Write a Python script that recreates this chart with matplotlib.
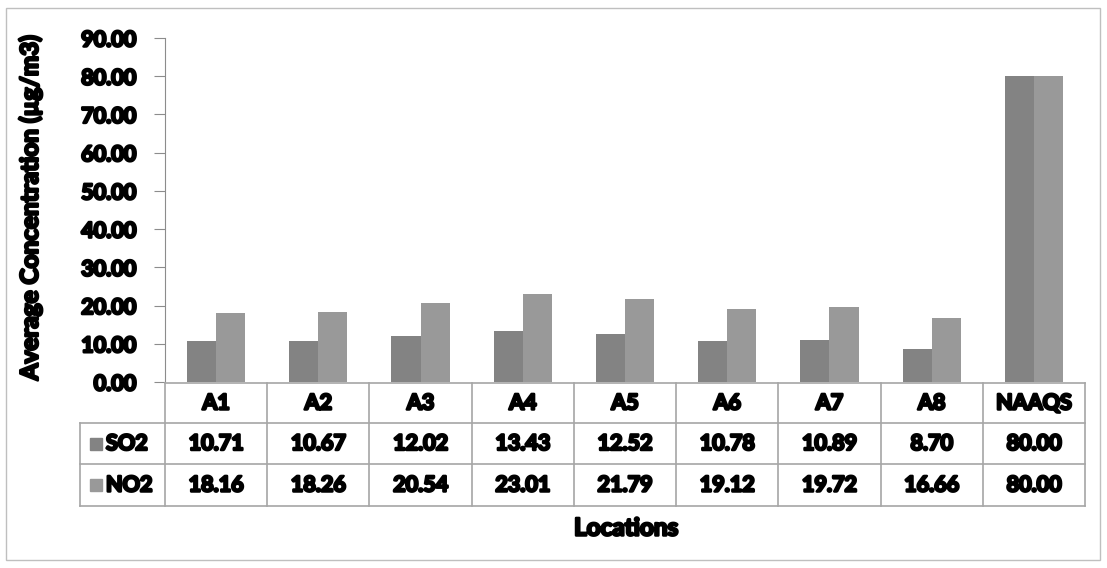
import matplotlib.pyplot as plt
import matplotlib.patheffects as pe
from matplotlib.lines import Line2D
from matplotlib.patches import Rectangle

locations = ["A1", "A2", "A3", "A4", "A5", "A6", "A7", "A8", "NAAQS"]
so2 = [10.71, 10.67, 12.02, 13.43, 12.52, 10.78, 10.89, 8.70, 80.00]
no2 = [18.16, 18.26, 20.54, 23.01, 21.79, 19.12, 19.72, 16.66, 80.00]
series_names = ["SO2", "NO2"]
colors = ["#838383", "#999999"]

W, H = 1107, 568
plt.rcParams['font.family'] = ['Lato', 'DejaVu Sans']
fig = plt.figure(figsize=(W / 100, H / 100), dpi=100)

heavy = [pe.withStroke(linewidth=1.8, foreground="black")]
FS = 15.5


def fx(px):
    return px / W


def fy(py):
    return 1 - py / H


# outer chart border
fig.patches.append(Rectangle((fx(6), fy(560)), fx(1100) - fx(6), fy(8) - fy(560),
                             transform=fig.transFigure, fill=False, ec="#bfbfbf", lw=1))

x_left, x_right = 165, 1085
y_top, y_zero = 38, 382
ax = fig.add_axes([fx(x_left), fy(y_zero), fx(x_right) - fx(x_left), fy(y_top) - fy(y_zero)])

n = len(locations)
bw = 0.285
xs = range(n)
ax.bar([x - bw / 2 for x in xs], so2, bw, color=colors[0])
ax.bar([x + bw / 2 for x in xs], no2, bw, color=colors[1])
ax.set_xlim(-0.5, n - 0.5)
ax.set_ylim(0, 90)
ax.set_yticks(range(0, 91, 10))
ax.set_yticklabels([f"{v:.2f}" for v in range(0, 91, 10)], fontsize=FS, fontweight='bold')
for t in ax.get_yticklabels():
    t.set_path_effects(heavy)
ax.tick_params(axis='y', length=8, color="#8c8c8c", pad=13)
ax.set_xticks([])
for s in ["top", "right", "bottom"]:
    ax.spines[s].set_visible(False)
ax.spines["left"].set_color("#8c8c8c")

fig.text(fx(30), fy(208), "Average Concentration (µg/m3)", rotation=90, ha='center', va='center',
         fontsize=17.5, fontweight='bold', path_effects=heavy)

# data table under the axes
rows = [383, 423, 464, 506]
cw = (x_right - x_left) / n
grid = "#a6a6a6"


def hline(x0, x1, y):
    fig.lines.append(Line2D([fx(x0), fx(x1)], [fy(y), fy(y)], transform=fig.transFigure, color=grid, lw=1.2))


def vline(x, y0, y1):
    fig.lines.append(Line2D([fx(x), fx(x)], [fy(y0), fy(y1)], transform=fig.transFigure, color=grid, lw=1.2))


hline(x_left, x_right, rows[0])
for y in rows[1:]:
    hline(80, x_right, y)
vline(80, rows[1], rows[3])
for i in range(n + 1):
    vline(x_left + i * cw, rows[0], rows[3])

tkw = dict(transform=fig.transFigure, ha='center', va='center', fontsize=FS, fontweight='bold',
           path_effects=heavy)
for i, loc in enumerate(locations):
    cx = x_left + (i + 0.5) * cw
    fig.text(fx(cx), fy((rows[0] + rows[1]) / 2), loc, **tkw)
    fig.text(fx(cx), fy((rows[1] + rows[2]) / 2), f"{so2[i]:.2f}", **tkw)
    fig.text(fx(cx), fy((rows[2] + rows[3]) / 2), f"{no2[i]:.2f}", **tkw)

for k, name in enumerate(series_names):
    cy = (rows[k + 1] + rows[k + 2]) / 2
    fig.patches.append(Rectangle((fx(90), fy(cy + 6)), fx(12), fx(12) * W / H,
                                 transform=fig.transFigure, color=colors[k]))
    fig.text(fx(106), fy(cy), name, transform=fig.transFigure, ha='left', va='center',
             fontsize=FS, fontweight='bold', path_effects=heavy)

fig.text(fx(626), fy(528), "Locations", transform=fig.transFigure,
         ha='center', va='center', fontsize=17.5, fontweight='bold', path_effects=heavy)

fig.savefig("out.png", dpi=100)
